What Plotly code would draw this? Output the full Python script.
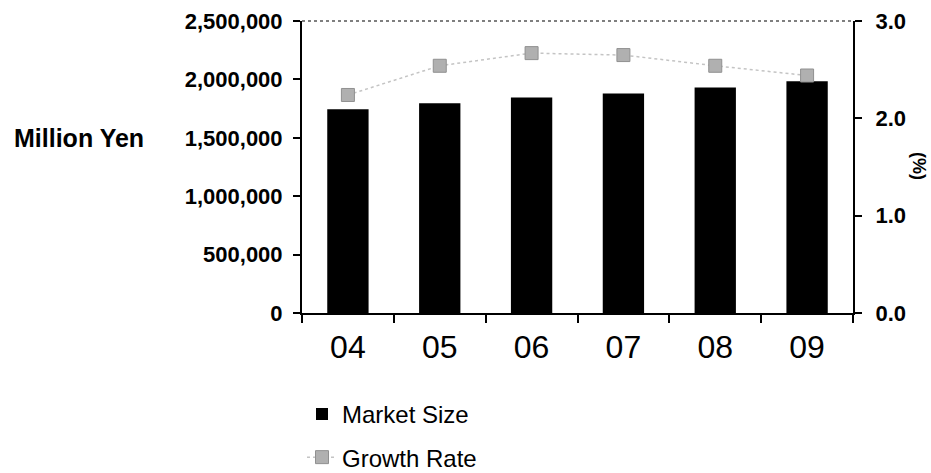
import plotly.graph_objects as go

# Japanese market size (million yen) and year-on-year growth (%)
years = ["04", "05", "06", "07", "08", "09"]
market_size = [1745000, 1795000, 1845000, 1880000, 1930000, 1985000]
growth_rate = [2.24, 2.54, 2.67, 2.65, 2.54, 2.44]

left_ticks = [0, 500000, 1000000, 1500000, 2000000, 2500000]
right_ticks = [0.0, 1.0, 2.0, 3.0]

FONT = "Arial, Liberation Sans, sans-serif"

fig = go.Figure()

fig.add_trace(go.Bar(
    x=years, y=market_size, name="Market Size",
    marker=dict(color="black", line=dict(width=0)),
    width=0.45, yaxis="y", legendgroup="a",
))

fig.add_trace(go.Scatter(
    x=years, y=growth_rate, name="Growth Rate",
    mode="lines+markers", yaxis="y2", legendgroup="b",
    line=dict(color="#c4c4c4", width=1.5, dash="dot"),
    marker=dict(symbol="square", size=13, color="#b0b0b0",
                line=dict(color="#909090", width=1)),
))

fig.update_layout(
    width=931, height=473,
    margin=dict(l=302, r=78, t=21, b=160, autoexpand=False),
    paper_bgcolor="white", plot_bgcolor="white",
    font=dict(family=FONT, color="black"),
    showlegend=True,
    legend=dict(
        x=0.0, y=-0.27, xanchor="left", yanchor="top",
        orientation="v", traceorder="grouped", tracegroupgap=9,
        font=dict(size=24, family=FONT, color="black"),
        bgcolor="rgba(0,0,0,0)",
    ),
    xaxis=dict(
        type="category", tickson="boundaries",
        showline=True, linecolor="black", linewidth=2,
        ticks="outside", ticklen=8, tickwidth=2, tickcolor="black",
        ticklabelstandoff=5,
        tickfont=dict(size=32, family=FONT, color="black"),
        showgrid=False, zeroline=False,
    ),
    yaxis=dict(
        range=[0, 2500000], tickvals=left_ticks, tickformat=",d",
        showline=True, linecolor="black", linewidth=2,
        ticks="outside", ticklen=7, tickwidth=2, tickcolor="black",
        ticklabelstandoff=6,
        tickfont=dict(size=22, family=FONT, color="black", weight="bold"),
        showgrid=False, zeroline=False,
    ),
    yaxis2=dict(
        range=[0, 3], tickvals=right_ticks, tickformat=".1f",
        overlaying="y", side="right",
        showline=True, linecolor="black", linewidth=2,
        ticks="outside", ticklen=7, tickwidth=2, tickcolor="black",
        ticklabelstandoff=9,
        tickfont=dict(size=22, family=FONT, color="black", weight="bold"),
        showgrid=False, zeroline=False,
    ),
    annotations=[
        dict(text="Million Yen", xref="paper", yref="paper",
             x=(12 - 302) / 551, y=(313 - 138) / 292,
             xanchor="left", yanchor="middle", showarrow=False,
             font=dict(size=25, family=FONT, color="black", weight="bold")),
        dict(text="(%)", xref="paper", yref="paper",
             x=(919 - 302) / 551, y=(313 - 166) / 292,
             xanchor="center", yanchor="middle", showarrow=False,
             textangle=90,
             font=dict(size=18, family=FONT, color="black", weight="bold")),
    ],
    shapes=[
        # dotted top border of the plot frame
        dict(type="line", xref="paper", yref="paper",
             x0=0, x1=1, y0=1, y1=1,
             line=dict(color="#555555", width=1.5, dash="dot")),
    ],
)

fig.write_html("out.html")
